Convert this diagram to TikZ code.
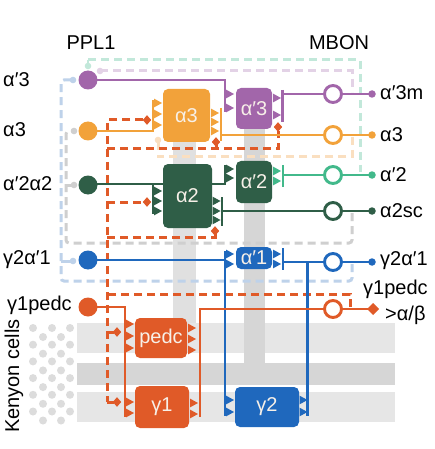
\documentclass[tikz,border=0pt]{standalone}
\usepackage{fontspec}
\setmainfont{Liberation Sans}
\definecolor{cPur}{HTML}{A266AA}
\definecolor{cOra}{HTML}{F2A23A}
\definecolor{cDG}{HTML}{2F5E47}
\definecolor{cTeal}{HTML}{42B98B}
\definecolor{cBlu}{HTML}{1F68BD}
\definecolor{cRed}{HTML}{E05A28}
\definecolor{pTeal}{HTML}{C2E8DA}
\definecolor{pLil}{HTML}{E3D2E6}
\definecolor{pPea}{HTML}{FADFC0}
\definecolor{pGry}{HTML}{CFCFCF}
\definecolor{pBlu}{HTML}{BED2EA}
\definecolor{gA}{HTML}{E6E6E6}
\definecolor{gB}{HTML}{D6D6D6}
\definecolor{gC}{HTML}{E0E0E0}
\definecolor{kc}{HTML}{DCDCDC}
\definecolor{btxt}{HTML}{F7F0E8}
\newcommand\myfs{\fontsize{20}{22}\selectfont}
\newcommand\mytri[3]{\fill[#1] (#2,#3-4.4) -- (#2+8,#3) -- (#2,#3+4.4) -- cycle;}
\newcommand\mydia[3]{\fill[#1] (#2,#3-4.8) -- (#2+4.2,#3) -- (#2,#3+4.8) -- (#2-4.2,#3) -- cycle;}
\tikzset{
  lbl/.style={font=\myfs, text=black, inner sep=0pt},
  blk/.style={rounded corners=5pt, inner sep=0pt, text=btxt, font=\myfs},
  ax/.style={line width=2.8pt},
  dsh/.style={line width=3pt, dash pattern=on 8pt off 5pt},
  dan/.style={circle, inner sep=0pt, minimum size=19pt},
  mbon/.style={circle, draw, line width=2.9pt, fill=white, inner sep=0pt, minimum size=17pt},
  tipdot/.style={circle, inner sep=0pt, minimum size=7.5pt},
}
\begin{document}
\begin{tikzpicture}[x=1pt,y=-1pt]
\fill[white] (0,0) rectangle (434,449);
\useasboundingbox (0,0) rectangle (434,449);
% lobes
\fill[gA] (77,323) rectangle (395,353);
\fill[gB] (77,363) rectangle (395,385);
\fill[gA] (77,392) rectangle (395,422);
\fill[gC] (173,142) rectangle (196,323);
\fill[gB] (244,129) rectangle (265,363);
% Kenyon cells
\foreach \x in {33,52,70} \foreach \k in {0,...,5} \fill[kc] (\x,328+16.7*\k) circle (4pt);
\foreach \x in {43,61} \foreach \k in {0,...,5} \fill[kc] (\x,337+16.7*\k) circle (4pt);
% pale feedback lines
\draw[dsh,pTeal] (88,60) -- (360,60) -- (360,172);
\draw[line width=2pt,pTeal] (88,60) -- (88,65);
\fill[pTeal] (88,66) circle (3.3pt);
\draw[dsh,pLil] (100,71) -- (352,71) -- (352,92);
\fill[pLil] (100,71) circle (3.3pt);
\draw[dsh,pPea] (352,137) |- (158,157) -- (158,141);
\fill[pPea] (158,140) circle (3.3pt);
\draw[dsh,pGry,rounded corners=3pt] (352,213) |- (66,243) |- (74,131);
\draw[line width=3pt,pGry] (66,185) -- (74,185);
\fill[pGry] (74,131) circle (3.3pt);
\fill[pGry] (74,185) circle (3.3pt);
\draw[dsh,pBlu,rounded corners=3pt] (352,264) |- (61,281) |- (73,80);
\draw[line width=3pt,pBlu] (61,261) -- (73,261);
\fill[pBlu] (73,80) circle (3.3pt);
\fill[pBlu] (73,261) circle (3.3pt);
% orange dashed (gamma1pedc MBON feedback)
\draw[dsh,cRed] (350,307) |- (107,294);
\draw[dsh,cRed] (143,120) -| (107,402);
\draw[line width=3pt,cRed] (107,402) -- (114,402);
\draw[line width=3pt,cRed] (107,332) -- (114,332);
\draw[dsh,cRed] (107,149) -| (278,131);
\draw[line width=3pt,cRed] (216,149) -- (216,145);
\draw[dsh,cRed] (107,202) -- (143,202);
\draw[dsh,cRed] (107,237) -| (215,234);
% solid lines behind blocks
\draw[ax,cDG] (88,184) -- (225,184) -- (225,165);
% blocks
\node[blk, fill=cPur, minimum width=36pt, minimum height=41pt] (bA3p) at (254,108.5) {α′3};
\node[blk, fill=cOra, minimum width=47pt, minimum height=53pt] (bA3) at (186.5,115.5) {α3};
\node[blk, fill=cDG, minimum width=49pt, minimum height=64pt] (bA2) at (187.5,196) {α2};
\node[blk, fill=cDG, minimum width=36pt, minimum height=42pt] (bA2p) at (254,182) {α′2};
\node[blk, fill=cBlu, minimum width=36pt, minimum height=22pt] (bA1p) at (254,258) {α′1};
\node[blk, fill=cRed, minimum width=52pt, minimum height=40pt] (bPed) at (161,338) {pedc};
\node[blk, fill=cRed, minimum width=54pt, minimum height=42pt] (bG1) at (162,407) {γ1};
\node[blk, fill=cBlu, minimum width=64pt, minimum height=40pt] (bG2) at (267,407) {γ2};
% DAN axons
\draw[ax,cPur] (88,80) -| (225,112);
\mytri{cPur}{226}{94}\mytri{cPur}{226}{108}
\draw[ax,cOra] (88,131) -| (153,100);
\mytri{cOra}{154}{103}\mytri{cOra}{154}{114}\mytri{cOra}{154}{125}
\draw[ax,cDG] (153,184) -- (153,214);
\mytri{cDG}{154}{191}\mytri{cDG}{154}{201}\mytri{cDG}{154}{211}
\mytri{cDG}{226}{169}\mytri{cDG}{226}{178}
\draw[ax,cBlu] (88,260) -| (225,416);
\draw[ax,cBlu] (225,260) -- (225,251);
\mytri{cBlu}{226}{254}\mytri{cBlu}{226}{264}
\mytri{cBlu}{226}{400}\mytri{cBlu}{226}{412}
\draw[ax,cRed] (88,307) -| (125,417);
\mytri{cRed}{126}{324}\mytri{cRed}{126}{336}\mytri{cRed}{126}{348}
\mytri{cRed}{126}{402}\mytri{cRed}{126}{413}
% MBON dendrites and axons
\mytri{cPur}{273}{98}\mytri{cPur}{273}{115}
\draw[ax,cPur] (282.5,90) -- (282.5,122);
\draw[ax,cPur] (282.5,94) -- (372,94);
\mytri{cOra}{211}{113}\mytri{cOra}{211}{122}\mytri{cOra}{211}{131}
\draw[ax,cOra] (221,108) -- (221,141);
\draw[ax,cOra] (221,135) -- (372,135);
\mytri{cDG}{212.5}{201}\mytri{cDG}{212.5}{211}\mytri{cDG}{212.5}{220}
\draw[ax,cDG] (222,197) -- (222,226);
\draw[ax,cDG] (222,211) -- (372,211);
\mytri{cTeal}{273}{171}\mytri{cTeal}{273}{181}
\draw[ax,cTeal] (283,165) -- (283,187);
\draw[ax,cTeal] (283,175) -- (372,175);
\mytri{cBlu}{273}{254}\mytri{cBlu}{273}{264}
\draw[ax,cBlu] (283,248) -- (283,270);
\draw[ax,cBlu] (283,262) -- (372,262);
\mytri{cBlu}{299.5}{400}\mytri{cBlu}{299.5}{412}
\draw[ax,cBlu] (307.5,262) -- (307.5,416);
\mytri{cRed}{188}{328}\mytri{cRed}{188}{339}\mytri{cRed}{188}{350}
\mytri{cRed}{190}{403}\mytri{cRed}{190}{414}
\draw[ax,cRed] (200,417) |- (370,309);
% modulatory diamonds
\mydia{cRed}{147}{120}
\mydia{cRed}{147}{202}
\mydia{cRed}{216}{142}
\mydia{cRed}{278}{127}
\mydia{cRed}{215}{231}
\mydia{cRed}{117}{332}
\mydia{cRed}{117}{402}
\fill[cRed] (373,303) -- (379,309) -- (373,315) -- (367,309) -- cycle;
% DAN somata
\node[dan, fill=cPur] (dP1) at (88,80) {};
\node[dan, fill=cOra] (dA3) at (88,131) {};
\node[dan, fill=cDG] (dA2) at (88,185) {};
\node[dan, fill=cBlu] (dG2) at (88,260) {};
\node[dan, fill=cRed] (dG1) at (88,307) {};
% MBON somata
\node[mbon, draw=cPur] (mP1) at (333,94) {};
\node[mbon, draw=cOra] (mA3) at (333,135) {};
\node[mbon, draw=cTeal] (mA2p) at (333,175) {};
\node[mbon, draw=cDG] (mA2) at (333,211) {};
\node[mbon, draw=cBlu] (mG2) at (333,262) {};
\node[mbon, draw=cRed] (mG1) at (333,309) {};
\node[tipdot, fill=cPur] (tP1) at (372,94) {};
\node[tipdot, fill=cOra] (tA3) at (372,135) {};
\node[tipdot, fill=cTeal] (tA2p) at (372,175) {};
\node[tipdot, fill=cDG] (tA2) at (372,211) {};
\node[tipdot, fill=cBlu] (tG2) at (372,262) {};
% labels
\node[lbl] (lPPL) at (91,43) {PPL1};
\node[lbl] (lMBON) at (339,43) {MBON};
\node[lbl, anchor=west] (l1) at (3,80) {α′3};
\node[lbl, anchor=west] (l2) at (3,130) {α3};
\node[lbl, anchor=west] (l3) at (3,184) {α′2α2};
\node[lbl, anchor=west] (l4) at (3,260) {γ2α′1};
\node[lbl, anchor=west] (l5) at (7,305) {γ1pedc};
\node[lbl, rotate=90] (lKC) at (14,376) {Kenyon cells};
\node[lbl, anchor=west] (r1) at (380,93) {α′3m};
\node[lbl, anchor=west] (r2) at (380,135) {α3};
\node[lbl, anchor=west] (r3) at (380,175) {α′2};
\node[lbl, anchor=west] (r4) at (380,211) {α2sc};
\node[lbl, anchor=west] (r5) at (380,261) {γ2α′1};
\node[lbl, anchor=west] (r6) at (363,289) {γ1pedc};
\node[lbl, anchor=west] (r7) at (385,315) {>α/β};
\end{tikzpicture}
\end{document}
